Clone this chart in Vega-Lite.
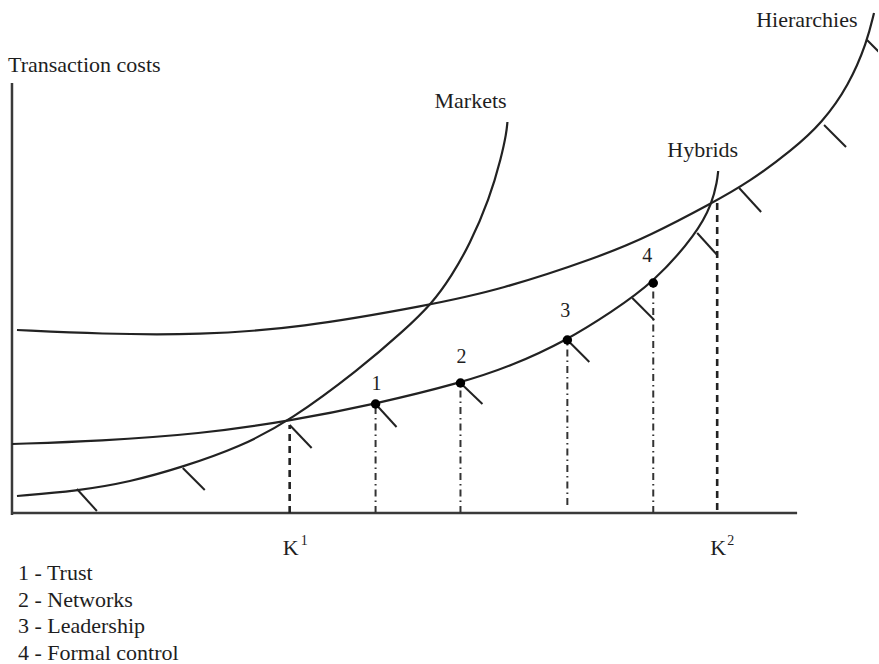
{
  "$schema": "https://vega.github.io/schema/vega-lite/v6.json",
  "width": 879,
  "height": 664,
  "padding": 0,
  "autosize": {"type": "fit", "contains": "padding"},
  "background": "white",
  "config": {"view": {"stroke": null}},
  "datasets": {
    "curves": [
      {"curve": "Hierarchies", "i": 1, "x": 5, "y": 183},
      {"curve": "Hierarchies", "i": 2, "x": 88, "y": 179},
      {"curve": "Hierarchies", "i": 3, "x": 188, "y": 178},
      {"curve": "Hierarchies", "i": 4, "x": 288, "y": 185},
      {"curve": "Hierarchies", "i": 5, "x": 418, "y": 208},
      {"curve": "Hierarchies", "i": 6, "x": 488, "y": 223},
      {"curve": "Hierarchies", "i": 7, "x": 588, "y": 256},
      {"curve": "Hierarchies", "i": 8, "x": 638, "y": 277},
      {"curve": "Hierarchies", "i": 9, "x": 701, "y": 310},
      {"curve": "Hierarchies", "i": 10, "x": 738, "y": 331},
      {"curve": "Hierarchies", "i": 11, "x": 781, "y": 363},
      {"curve": "Hierarchies", "i": 12, "x": 811, "y": 390},
      {"curve": "Hierarchies", "i": 13, "x": 838, "y": 428},
      {"curve": "Hierarchies", "i": 14, "x": 856, "y": 471},
      {"curve": "Hierarchies", "i": 15, "x": 863, "y": 500},
      {"curve": "Markets", "i": 1, "x": 5, "y": 17},
      {"curve": "Markets", "i": 2, "x": 65, "y": 22},
      {"curve": "Markets", "i": 3, "x": 118, "y": 31},
      {"curve": "Markets", "i": 4, "x": 171, "y": 46},
      {"curve": "Markets", "i": 5, "x": 228, "y": 66},
      {"curve": "Markets", "i": 6, "x": 278, "y": 92},
      {"curve": "Markets", "i": 7, "x": 348, "y": 144},
      {"curve": "Markets", "i": 8, "x": 392, "y": 182},
      {"curve": "Markets", "i": 9, "x": 421, "y": 210},
      {"curve": "Markets", "i": 10, "x": 440, "y": 237},
      {"curve": "Markets", "i": 11, "x": 458, "y": 268},
      {"curve": "Markets", "i": 12, "x": 478, "y": 314},
      {"curve": "Markets", "i": 13, "x": 490, "y": 356},
      {"curve": "Markets", "i": 14, "x": 495, "y": 380},
      {"curve": "Markets", "i": 15, "x": 496, "y": 391},
      {"curve": "Hybrids", "i": 1, "x": 0, "y": 69},
      {"curve": "Hybrids", "i": 2, "x": 88, "y": 72},
      {"curve": "Hybrids", "i": 3, "x": 188, "y": 79},
      {"curve": "Hybrids", "i": 4, "x": 278, "y": 92},
      {"curve": "Hybrids", "i": 5, "x": 364, "y": 109},
      {"curve": "Hybrids", "i": 6, "x": 449, "y": 130},
      {"curve": "Hybrids", "i": 7, "x": 500, "y": 147},
      {"curve": "Hybrids", "i": 8, "x": 556, "y": 173},
      {"curve": "Hybrids", "i": 9, "x": 600, "y": 201},
      {"curve": "Hybrids", "i": 10, "x": 642, "y": 230},
      {"curve": "Hybrids", "i": 11, "x": 686, "y": 280},
      {"curve": "Hybrids", "i": 12, "x": 701, "y": 310},
      {"curve": "Hybrids", "i": 13, "x": 706, "y": 332},
      {"curve": "Hybrids", "i": 14, "x": 707, "y": 342}
    ],
    "axes": [
      {"x": 0, "y": -2, "x2": 0, "y2": 430},
      {"x": 0, "y": 0, "x2": 786, "y2": 0}
    ],
    "drops": [
      {"style": "dashed", "x": 278, "y": 0, "x2": 278, "y2": 88},
      {"style": "dashdot", "x": 364, "y": 0, "x2": 364, "y2": 109},
      {"style": "dashdot", "x": 449, "y": 0, "x2": 449, "y2": 130},
      {"style": "dashdot", "x": 556, "y": 8, "x2": 556, "y2": 173},
      {"style": "dashdot", "x": 642, "y": 0, "x2": 642, "y2": 230},
      {"style": "dashed", "x": 706, "y": 3, "x2": 706, "y2": 310}
    ],
    "hatch": [
      {"x": 65, "y": 24, "x2": 85, "y2": 2},
      {"x": 171, "y": 45, "x2": 193, "y2": 23},
      {"x": 278, "y": 88, "x2": 300, "y2": 65},
      {"x": 364, "y": 109, "x2": 385, "y2": 86},
      {"x": 449, "y": 130, "x2": 471, "y2": 109},
      {"x": 556, "y": 173, "x2": 578, "y2": 151},
      {"x": 621, "y": 215, "x2": 643, "y2": 193},
      {"x": 686, "y": 280, "x2": 706, "y2": 258},
      {"x": 728, "y": 325, "x2": 750, "y2": 301},
      {"x": 813, "y": 388, "x2": 835, "y2": 366},
      {"x": 856, "y": 473, "x2": 878, "y2": 451}
    ],
    "points": [
      {"n": "1", "x": 364, "y": 109},
      {"n": "2", "x": 449, "y": 130},
      {"n": "3", "x": 556, "y": 173},
      {"n": "4", "x": 642, "y": 230}
    ],
    "labels": [
      {"kind": "left", "text": "Transaction costs", "x": -4, "y": 441},
      {"kind": "left", "text": "Markets", "x": 423, "y": 405},
      {"kind": "left", "text": "Hybrids", "x": 656, "y": 356},
      {"kind": "left", "text": "Hierarchies", "x": 745, "y": 486},
      {"kind": "left", "text": "K", "x": 271, "y": -42},
      {"kind": "left", "text": "K", "x": 699, "y": -42},
      {"kind": "left", "text": "1 - Trust", "x": 6, "y": -67},
      {"kind": "left", "text": "2 - Networks", "x": 6, "y": -94},
      {"kind": "left", "text": "3 - Leadership", "x": 6, "y": -120},
      {"kind": "left", "text": "4 - Formal control", "x": 6, "y": -147},
      {"kind": "num", "text": "1", "x": 365, "y": 123},
      {"kind": "num", "text": "2", "x": 450, "y": 150},
      {"kind": "num", "text": "3", "x": 554, "y": 196},
      {"kind": "num", "text": "4", "x": 636, "y": 251},
      {"kind": "sup", "text": "1", "x": 289, "y": -32},
      {"kind": "sup", "text": "2", "x": 716, "y": -32}
    ]
  },
  "layer": [
    {
      "data": {"name": "axes"},
      "mark": {"type": "rule", "color": "#3a3a3a", "strokeWidth": 2.5},
      "encoding": {
        "x": {"field": "x", "type": "quantitative", "scale": {"domain": [-12, 867], "nice": false, "zero": false}, "axis": null},
        "y": {"field": "y", "type": "quantitative", "scale": {"domain": [-151, 513], "nice": false, "zero": false}, "axis": null},
        "x2": {"field": "x2"},
        "y2": {"field": "y2"}
      }
    },
    {
      "data": {"name": "curves"},
      "mark": {"type": "line", "interpolate": "basis", "color": "#222222", "strokeWidth": 2.2},
      "encoding": {
        "x": {"field": "x", "type": "quantitative", "scale": {"domain": [-12, 867], "nice": false, "zero": false}, "axis": null},
        "y": {"field": "y", "type": "quantitative", "scale": {"domain": [-151, 513], "nice": false, "zero": false}, "axis": null},
        "detail": {"field": "curve"},
        "order": {"field": "i", "type": "quantitative"}
      }
    },
    {
      "data": {"name": "drops"},
      "transform": [{"filter": "datum.style === 'dashed'"}],
      "mark": {"type": "rule", "color": "#222222", "strokeWidth": 2.6, "strokeDash": [7, 5]},
      "encoding": {
        "x": {"field": "x", "type": "quantitative", "scale": {"domain": [-12, 867], "nice": false, "zero": false}, "axis": null},
        "y": {"field": "y", "type": "quantitative", "scale": {"domain": [-151, 513], "nice": false, "zero": false}, "axis": null},
        "x2": {"field": "x2"},
        "y2": {"field": "y2"}
      }
    },
    {
      "data": {"name": "drops"},
      "transform": [{"filter": "datum.style === 'dashdot'"}],
      "mark": {"type": "rule", "color": "#333333", "strokeWidth": 2, "strokeDash": [7, 4, 1.5, 4]},
      "encoding": {
        "x": {"field": "x", "type": "quantitative", "scale": {"domain": [-12, 867], "nice": false, "zero": false}, "axis": null},
        "y": {"field": "y", "type": "quantitative", "scale": {"domain": [-151, 513], "nice": false, "zero": false}, "axis": null},
        "x2": {"field": "x2"},
        "y2": {"field": "y2"}
      }
    },
    {
      "data": {"name": "hatch"},
      "mark": {"type": "rule", "color": "#222222", "strokeWidth": 2, "clip": true},
      "encoding": {
        "x": {"field": "x", "type": "quantitative", "scale": {"domain": [-12, 867], "nice": false, "zero": false}, "axis": null},
        "y": {"field": "y", "type": "quantitative", "scale": {"domain": [-151, 513], "nice": false, "zero": false}, "axis": null},
        "x2": {"field": "x2"},
        "y2": {"field": "y2"}
      }
    },
    {
      "data": {"name": "points"},
      "mark": {"type": "point", "shape": "circle", "filled": true, "color": "#000000", "size": 90, "opacity": 1},
      "encoding": {
        "x": {"field": "x", "type": "quantitative", "scale": {"domain": [-12, 867], "nice": false, "zero": false}, "axis": null},
        "y": {"field": "y", "type": "quantitative", "scale": {"domain": [-151, 513], "nice": false, "zero": false}, "axis": null}
      }
    },
    {
      "data": {"name": "labels"},
      "transform": [{"filter": "datum.kind === 'left'"}],
      "mark": {"type": "text", "align": "left", "baseline": "alphabetic", "font": "Liberation Serif", "fontSize": 22, "color": "#1e1e1e"},
      "encoding": {
        "x": {"field": "x", "type": "quantitative", "scale": {"domain": [-12, 867], "nice": false, "zero": false}, "axis": null},
        "y": {"field": "y", "type": "quantitative", "scale": {"domain": [-151, 513], "nice": false, "zero": false}, "axis": null},
        "text": {"field": "text"}
      }
    },
    {
      "data": {"name": "labels"},
      "transform": [{"filter": "datum.kind === 'num'"}],
      "mark": {"type": "text", "align": "center", "baseline": "alphabetic", "font": "Liberation Serif", "fontSize": 20, "color": "#1e1e1e"},
      "encoding": {
        "x": {"field": "x", "type": "quantitative", "scale": {"domain": [-12, 867], "nice": false, "zero": false}, "axis": null},
        "y": {"field": "y", "type": "quantitative", "scale": {"domain": [-151, 513], "nice": false, "zero": false}, "axis": null},
        "text": {"field": "text"}
      }
    },
    {
      "data": {"name": "labels"},
      "transform": [{"filter": "datum.kind === 'sup'"}],
      "mark": {"type": "text", "align": "left", "baseline": "alphabetic", "font": "Liberation Serif", "fontSize": 14, "color": "#1e1e1e"},
      "encoding": {
        "x": {"field": "x", "type": "quantitative", "scale": {"domain": [-12, 867], "nice": false, "zero": false}, "axis": null},
        "y": {"field": "y", "type": "quantitative", "scale": {"domain": [-151, 513], "nice": false, "zero": false}, "axis": null},
        "text": {"field": "text"}
      }
    }
  ]
}
